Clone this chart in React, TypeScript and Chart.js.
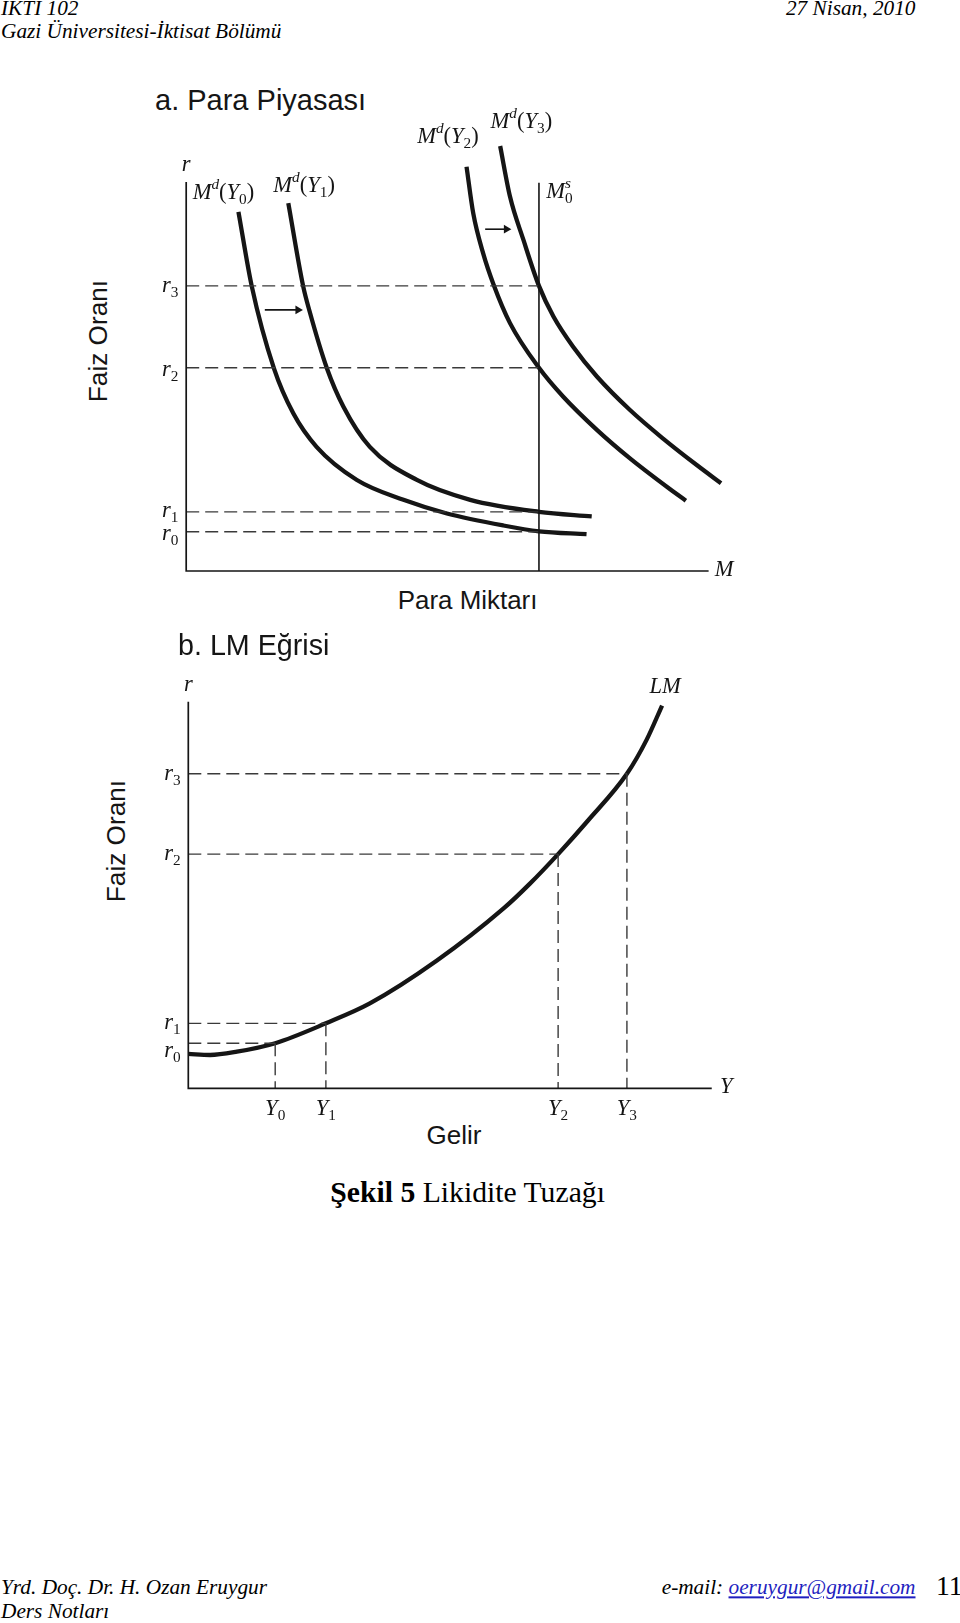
import React, { useEffect, useRef } from "react";
import { Chart, registerables } from "chart.js";

Chart.register(...registerables);

// ---------- Panel a: Para Piyasası (money market) ----------
const rValuesA = [9.5, 14.3, 49.1, 68.9]; // r0..r3
const rLabelPosA = [9, 14.5, 48.5, 68.9];
const moneySupplyA = 68.2;
const mdY0 = [
  { x: 10.1, y: 86.8 }, { x: 12.66, y: 68.9 }, { x: 16.98, y: 48.9 },
  { x: 20.7, y: 38.1 }, { x: 25.2, y: 30 }, { x: 33, y: 22 }, { x: 42, y: 17.2 },
  { x: 50.4, y: 13.9 }, { x: 61.3, y: 11 }, { x: 68.2, y: 9.6 }, { x: 77.4, y: 8.9 },
];
const mdY1 = [
  { x: 19.74, y: 88.9 }, { x: 22.6, y: 68.9 }, { x: 23.8, y: 63 }, { x: 27.2, y: 49 },
  { x: 30.4, y: 39.7 }, { x: 35.5, y: 30 }, { x: 44.6, y: 22 }, { x: 54.9, y: 17.2 },
  { x: 68.2, y: 14.3 }, { x: 78.4, y: 13.2 },
];
const mdY2 = [
  { x: 54.2, y: 97.7 }, { x: 55.5, y: 86.4 }, { x: 57.4, y: 76.8 }, { x: 59.4, y: 69.3 },
  { x: 62.6, y: 59.9 }, { x: 68.2, y: 49.1 }, { x: 72.9, y: 42.1 }, { x: 79.4, y: 34.1 },
  { x: 85.8, y: 27.2 }, { x: 93.5, y: 19.8 }, { x: 96.6, y: 17 },
];
const mdY3 = [
  { x: 60.7, y: 102.7 }, { x: 62.6, y: 90.5 }, { x: 65.2, y: 80 }, { x: 68.2, y: 68.9 },
  { x: 71, y: 61.5 }, { x: 74.8, y: 54.2 }, { x: 79.4, y: 47 }, { x: 85.8, y: 38.9 },
  { x: 92.2, y: 32 }, { x: 98.7, y: 25.6 }, { x: 103.4, y: 21.2 },
];
const arrowLow = [{ x: 15.2, y: 63.1 }, { x: 21.6, y: 63.1 }];
const arrowHigh = [{ x: 57.8, y: 82.6 }, { x: 61.9, y: 82.6 }];

// ---------- Panel b: LM Eğrisi ----------
const rValuesB = [10.9, 15.7, 56.6, 76]; // r0..r3 (dashed levels)
const rLabelPosB = [9, 15.7, 56.6, 76];
const yValuesB = [16.8, 26.6, 71.5, 84.8]; // Y0..Y3
const lmCurve = [
  { x: 0, y: 8.3 }, { x: 4.2, y: 8.05 }, { x: 9.4, y: 8.85 }, { x: 16.8, y: 10.9 },
  { x: 26.6, y: 15.7 }, { x: 35.1, y: 20.5 }, { x: 48, y: 30.8 }, { x: 60.9, y: 43.4 },
  { x: 66, y: 49.4 }, { x: 71.5, y: 56.6 }, { x: 77.2, y: 64.6 }, { x: 84.8, y: 76 },
  { x: 88.6, y: 84.2 }, { x: 91.6, y: 92.5 },
];

const SERIF = '"Liberation Serif", "Times New Roman", serif';
const SANS = '"Liberation Sans", Arial, sans-serif';
const INK = "#151515";

type Seg = { t: string; it?: boolean; sup?: boolean; sub?: boolean; hold?: boolean };
type Label = { x: number; y: number; segs: Seg[]; align?: "left" | "center" | "right"; size?: number };

const md = (i: number): Seg[] => [
  { t: "M", it: true }, { t: "d", it: true, sup: true }, { t: "(" }, { t: "Y", it: true }, { t: String(i), sub: true }, { t: ")" },
];
const rl = (i: number): Seg[] => [{ t: "r", it: true }, { t: String(i), sub: true }];
const yl = (i: number): Seg[] => [{ t: "Y", it: true }, { t: String(i), sub: true }];

function drawRich(ctx: CanvasRenderingContext2D, segs: Seg[], x: number, y: number, align: string, size: number) {
  const small = size * 0.68;
  const font = (s: Seg) => `${s.it ? "italic " : ""}${s.sup || s.sub ? small : size}px ${SERIF}`;
  const widths = segs.map((s) => {
    ctx.font = font(s);
    return ctx.measureText(s.t).width;
  });
  let total = 0;
  segs.forEach((s, i) => { if (!s.hold) total += widths[i]; });
  let cx = align === "center" ? x - total / 2 : align === "right" ? x - total : x;
  ctx.textBaseline = "middle";
  ctx.textAlign = "left";
  ctx.fillStyle = INK;
  segs.forEach((s, i) => {
    ctx.font = font(s);
    const dy = s.sup ? -size * 0.36 : s.sub ? size * 0.3 : 0;
    ctx.fillText(s.t, cx, y + dy);
    if (!s.hold) cx += widths[i];
  });
}

const labelPlugin = (labels: Label[]) => ({
  id: "richLabels",
  afterDatasetsDraw(chart: any) {
    const { ctx, scales } = chart;
    ctx.save();
    for (const l of labels) {
      drawRich(ctx, l.segs, scales.x.getPixelForValue(l.x), scales.y.getPixelForValue(l.y), l.align || "center", l.size || 22.5);
    }
    ctx.restore();
  },
});

const lineDs = (data: { x: number; y: number }[], width: number, extra: any = {}) => ({
  data,
  showLine: true,
  borderColor: INK,
  backgroundColor: INK,
  borderWidth: width,
  pointRadius: 0,
  clip: false,
  tension: 0,
  ...extra,
});
const dashDs = (data: { x: number; y: number }[]) => lineDs(data, 1.4, { borderColor: "#3a3a3a", borderDash: [13, 6] });
const curveDs = (data: { x: number; y: number }[]) =>
  lineDs(data, 4.3, { cubicInterpolationMode: "monotone", borderCapStyle: "butt" });
const arrowDs = (data: { x: number; y: number }[]) =>
  lineDs(data, 1.6, {
    pointRadius: (c: any) => (c.dataIndex === 1 ? 5 : 0),
    pointStyle: "triangle",
    rotation: 90,
    pointBorderWidth: 0,
    pointBackgroundColor: INK,
  });

function PanelChart(props: {
  top: number; height: number; padding: any; xMax: number; yMax: number; datasets: any[]; labels: Label[];
}) {
  const ref = useRef<HTMLCanvasElement>(null);
  useEffect(() => {
    const chart = new Chart(ref.current as HTMLCanvasElement, {
      type: "scatter",
      data: { datasets: props.datasets },
      options: {
        animation: false,
        responsive: false,
        events: [],
        layout: { padding: props.padding },
        scales: {
          x: { type: "linear", min: 0, max: props.xMax, display: false },
          y: { type: "linear", min: 0, max: props.yMax, display: false },
        },
        plugins: { legend: { display: false }, tooltip: { enabled: false } },
      } as any,
      plugins: [labelPlugin(props.labels)],
    });
    return () => chart.destroy();
  }, []);
  return (
    <canvas
      ref={ref}
      width={960}
      height={props.height}
      style={{ position: "absolute", left: 0, top: props.top, width: 960, height: props.height }}
    />
  );
}

function Txt(p: { x: number; y: number; anchor?: string; style?: any; rotate?: boolean; children: any }) {
  const tx = p.anchor === "center" ? "-50%" : p.anchor === "right" ? "-100%" : "0";
  return (
    <div
      style={{
        position: "absolute",
        left: p.x,
        top: p.y,
        transform: `translate(${p.rotate ? "-50%" : tx}, -50%)${p.rotate ? " rotate(-90deg)" : ""}`,
        whiteSpace: "nowrap",
        lineHeight: 1,
        ...p.style,
      }}
    >
      {p.children}
    </div>
  );
}

export default function App() {
  useEffect(() => {
    const prev = document.body.style.margin;
    document.body.style.margin = "0";
    return () => { document.body.style.margin = prev; };
  }, []);

  const datasetsA = [
    lineDs([{ x: 0, y: 94 }, { x: 0, y: 0 }, { x: 101, y: 0 }], 1.7),
    lineDs([{ x: moneySupplyA, y: 93.8 }, { x: moneySupplyA, y: 0 }], 1.6),
    ...rValuesA.map((r) => dashDs([{ x: 0, y: r }, { x: moneySupplyA, y: r }])),
    curveDs(mdY0), curveDs(mdY1), curveDs(mdY2), curveDs(mdY3),
    arrowDs(arrowLow), arrowDs(arrowHigh),
  ];
  const labelsA: Label[] = [
    { x: 0, y: 98, segs: [{ t: "r", it: true }] },
    ...rLabelPosA.map((v, i) => ({ x: -1.5, y: v, segs: rl(i), align: "right" as const })),
    { x: 7.2, y: 91.25, segs: md(0) },
    { x: 22.8, y: 93, segs: md(1) },
    { x: 50.6, y: 104.75, segs: md(2) },
    { x: 64.8, y: 108.5, segs: md(3) },
    { x: 69.6, y: 91.5, align: "left", segs: [{ t: "M", it: true }, { t: "s", it: true, sup: true, hold: true }, { t: "0", sub: true }] },
    { x: 104, y: 0.25, segs: [{ t: "M", it: true }] },
  ];

  const datasetsB = [
    lineDs([{ x: 0, y: 93.4 }, { x: 0, y: 0 }, { x: 101.2, y: 0 }], 1.7),
    ...rValuesB.map((r, i) => dashDs([{ x: 0, y: r }, { x: yValuesB[i], y: r }])),
    ...yValuesB.map((v, i) => dashDs([{ x: v, y: rValuesB[i] }, { x: v, y: 0 }])),
    curveDs(lmCurve),
  ];
  const labelsB: Label[] = [
    { x: 0, y: 97.5, segs: [{ t: "r", it: true }] },
    { x: 92.2, y: 97, segs: [{ t: "LM", it: true }] },
    ...rLabelPosB.map((v, i) => ({ x: -1.5, y: v, segs: rl(i), align: "right" as const })),
    ...yValuesB.map((v, i) => ({ x: v, y: -5, segs: yl(i) })),
    { x: 104, y: 0.25, segs: [{ t: "Y", it: true }] },
  ];

  const head = { fontFamily: SERIF, fontStyle: "italic", fontSize: 21.3, color: "#000" };
  const sans = { fontFamily: SANS, color: INK };

  return (
    <div style={{ position: "relative", width: 960, height: 1623, background: "#fff", overflow: "hidden" }}>
      <Txt x={1} y={8.5} style={head}>IKTI 102</Txt>
      <Txt x={915.5} y={8.5} anchor="right" style={head}>27 Nisan, 2010</Txt>
      <Txt x={1} y={32} style={head}>Gazi Üniversitesi-İktisat Bölümü</Txt>

      <Txt x={155} y={100} style={{ ...sans, fontSize: 29 }}>a. Para Piyasası</Txt>
      <Txt x={98} y={341} rotate style={{ ...sans, fontSize: 26.2 }}>Faiz Oranı</Txt>
      <Txt x={467.6} y={601} anchor="center" style={{ ...sans, fontSize: 25.9 }}>Para Miktarı</Txt>

      <PanelChart
        top={100}
        height={530}
        padding={{ left: 186.2, top: 36.5, right: 230.7, bottom: 59 }}
        xMax={105}
        yMax={105}
        datasets={datasetsA}
        labels={labelsA}
      />

      <Txt x={178} y={644.5} style={{ ...sans, fontSize: 28.7 }}>b. LM Eğrisi</Txt>
      <Txt x={115.9} y={841} rotate style={{ ...sans, fontSize: 26.2 }}>Faiz Oranı</Txt>
      <Txt x={454} y={1135} anchor="center" style={{ ...sans, fontSize: 26 }}>Gelir</Txt>

      <PanelChart
        top={660}
        height={480}
        padding={{ left: 188.3, top: 14.5, right: 228.6, bottom: 51.7 }}
        xMax={105}
        yMax={100}
        datasets={datasetsB}
        labels={labelsB}
      />

      <Txt x={467.6} y={1193} anchor="center" style={{ fontFamily: SERIF, fontSize: 29.7, color: "#000" }}>
        <b>Şekil 5</b> Likidite Tuzağı
      </Txt>

      <Txt x={1} y={1588} style={head}>Yrd. Doç. Dr. H. Ozan Eruygur</Txt>
      <Txt x={1} y={1612} style={head}>Ders Notları</Txt>
      <Txt x={915.5} y={1588} anchor="right" style={head}>
        e-mail: <span style={{ color: "#1f1fc0", textDecoration: "underline" }}>oeruygur@gmail.com</span>
      </Txt>
      <Txt x={936} y={1586} style={{ fontFamily: SERIF, fontSize: 27.6, color: "#000" }}>11</Txt>
    </div>
  );
}
